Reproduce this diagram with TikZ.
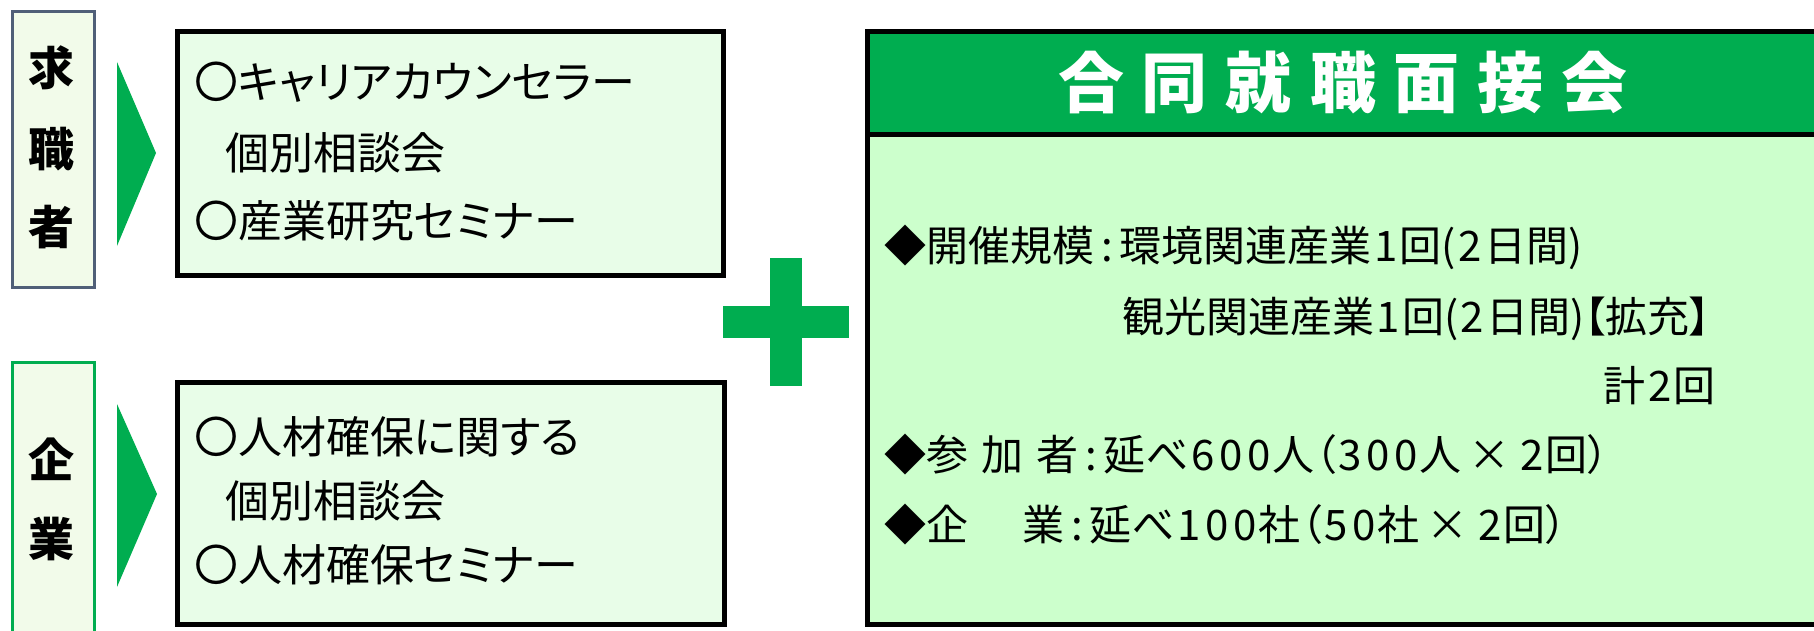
\documentclass[tikz,border=0pt]{standalone}
\usepackage{fontspec}
\setmainfont{Noto Sans CJK JP}[RawFeature={+palt}]
\definecolor{mygreen}{RGB}{0,173,80}
\definecolor{slate}{RGB}{80,95,120}
\definecolor{cream}{RGB}{242,251,234}
\definecolor{mint}{RGB}{232,253,232}
\definecolor{bodygreen}{RGB}{204,255,204}
\newcommand\dg[1]{\makebox[28pt]{#1}}
\newcommand\tsp{\hspace{18pt}}
\begin{document}
\begin{tikzpicture}[x=1pt,y=-1pt,
  sidebox/.style={line width=3pt, fill=cream, minimum width=82pt, inner sep=0pt, anchor=north west},
  listbox/.style={draw=black, line width=5pt, fill=mint, minimum width=546pt, minimum height=243pt, inner sep=0pt, anchor=north west},
  sidechar/.style={inner sep=0pt, font=\fontsize{46}{46}\selectfont\bfseries},
  item/.style={anchor=west, inner sep=0pt, text height=38.72pt, text depth=5.28pt, font=\fontsize{44}{44}\selectfont},
  ritem/.style={anchor=west, inner sep=0pt, text height=36.96pt, text depth=5.04pt, font=\fontsize{42}{42}\selectfont},
  tri/.style={fill=mygreen}
]
\useasboundingbox (0,0) rectangle (1814,631);

% left side labels
\node[sidebox, draw=slate, minimum height=275pt] (seek) at (10.5,10.5) {};
\node[sidechar] (s1) at (51.5,68) {求};
\node[sidechar] (s2) at (51.5,149) {職};
\node[sidechar] (s3) at (51.5,227) {者};

\node[sidebox, draw=mygreen, minimum height=300pt] (corp) at (10.5,360.5) {};
\node[sidechar] (c1) at (51.5,459) {企};
\node[sidechar] (c2) at (51.5,539) {業};

% arrows
\fill[tri] (117,62) -- (156,153) -- (117,246) -- cycle;
\fill[tri] (117,404) -- (157,494) -- (117,587) -- cycle;

% left list boxes
\node[listbox] (topbox) at (174.5,29.5) {};
\node[item] (t1) at (194,82) {〇キャリアカウンセラー};
\node[item] (t2) at (225,153) {個別相談会};
\node[item] (t3) at (194,221) {〇産業研究セミナー};

\node[listbox, minimum width=547pt, minimum height=242pt] (botbox) at (174.5,379.5) {};
\node[item] (b1) at (194,437) {〇人材確保に関する};
\node[item] (b2) at (225,501) {個別相談会};
\node[item] (b3) at (194,565) {〇人材確保セミナー};

% plus sign
\fill[mygreen] (770,258) rectangle (802,386);
\fill[mygreen] (723,306) rectangle (849,338);

% right box
\node[draw=black, line width=5pt, fill=bodygreen, minimum width=966pt, minimum height=592pt, inner sep=0pt, anchor=north west] (meet) at (864.5,29.5) {};
\node[draw=black, line width=5pt, fill=mygreen, minimum width=966pt, minimum height=103pt, inner sep=0pt, anchor=north west] (head) at (864.5,29.5) {};
\node[inner sep=0pt, text=white, font=\fontsize{66}{66}\selectfont\bfseries, text height=58.08pt, text depth=7.92pt] (title) at (1343,82)
  {合\tsp 同\tsp 就\tsp 職\tsp 面\tsp 接\tsp 会};

\node[ritem] (r1) at (884,246) {◆開催規模\,:\,環境関連産業\dg{1}回(\dg{2}日間)};
\node[ritem] (r2) at (1122,317) {観光関連産業\dg{1}回(\dg{2}日間)【拡充】};
\node[ritem, anchor=east] (r3) at (1716,386) {計\dg{2}回};
\node[ritem] (r4) at (884,455) {◆参\hspace{13pt}加\hspace{13pt}者\,:\,延べ\dg{6}\dg{0}\dg{0}人（\dg{3}\dg{0}\dg{0}人\,×\,\dg{2}回）};
\node[ritem] (r5) at (884,525) {◆企\hspace{54pt}業\,:\,延べ\dg{1}\dg{0}\dg{0}社（\dg{5}\dg{0}社\,×\,\dg{2}回）};
\end{tikzpicture}
\end{document}
